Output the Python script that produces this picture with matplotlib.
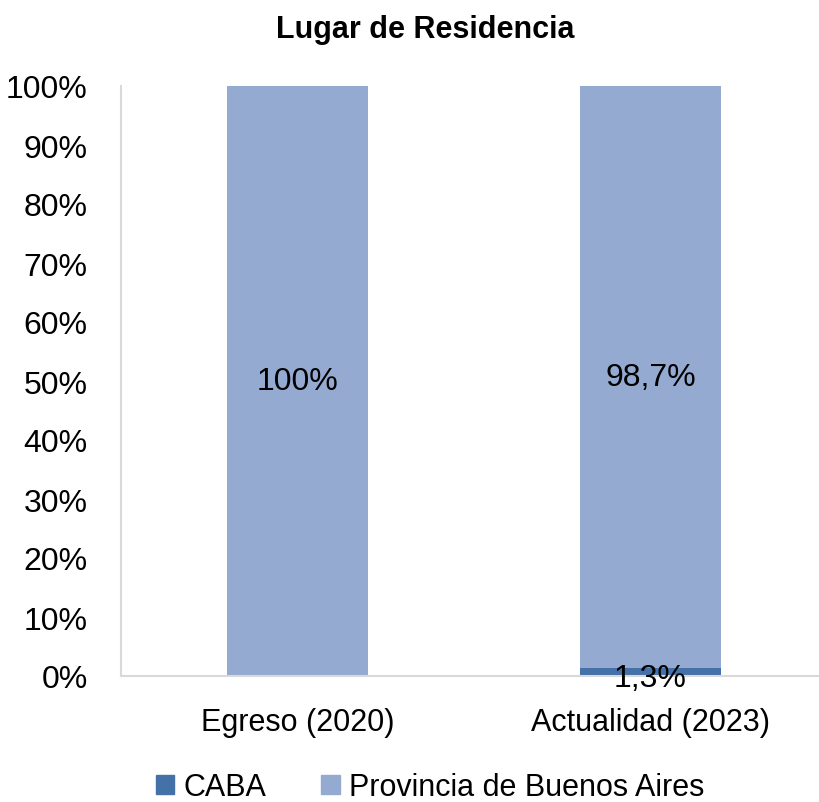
import matplotlib
matplotlib.use("Agg")
from matplotlib import pyplot as plt
from matplotlib.patches import Patch

plt.rcParams['font.family'] = ['Liberation Sans Narrow', 'Liberation Sans', 'DejaVu Sans']

categories = ["Egreso (2020)", "Actualidad (2023)"]
caba = [0.0, 1.3]
provincia = [100.0, 98.7]
prov_labels = ["100%", "98,7%"]
caba_labels = ["", "1,3%"]
series_names = ["CABA", "Provincia de Buenos Aires"]
yticks = list(range(0, 101, 10))

col_caba = "#4371a8"
col_prov = "#95aad1"

fig = plt.figure(figsize=(8.2, 8.03), dpi=100)
ax = fig.add_axes([121 / 820, 126 / 803, 706 / 820, 590 / 803])

x = range(len(categories))
ax.bar(x, caba, width=0.4, color=col_caba)
ax.bar(x, provincia, width=0.4, bottom=caba, color=col_prov)

# data labels
for i in x:
    ax.text(i, caba[i] + provincia[i] / 2, prov_labels[i], ha="center", va="center", fontsize=23)
    if caba_labels[i]:
        ax.text(i, caba[i] / 2 - 1.0, caba_labels[i], ha="center", va="center", fontsize=23)

ax.set_xlim(-0.5, 1.5)
ax.set_ylim(0, 100)
ax.set_yticks(yticks)
ax.set_yticklabels([f"{t}%" for t in yticks], fontsize=23)
ax.set_xticks(list(x))
ax.set_xticklabels(categories, fontsize=22)
ax.tick_params(length=0)
ax.tick_params(axis="x", pad=22)
ax.tick_params(axis="y", pad=24)
for s in ["top", "right"]:
    ax.spines[s].set_visible(False)
ax.spines["left"].set_color("#d9d9d9")
ax.spines["bottom"].set_color("#d9d9d9")
ax.spines["left"].set_linewidth(1.5)
ax.spines["bottom"].set_linewidth(1.5)

fig.text(425 / 820, 1 - 30 / 803, "Lugar de Residencia", ha="center", va="center",
         fontsize=22, fontweight="bold")

handles = [Patch(color=col_caba), Patch(color=col_prov)]
fig.legend(handles, series_names, loc="center", bbox_to_anchor=(430 / 820, 1 - 788 / 803),
           ncol=2, frameon=False, fontsize=22, handlelength=0.6, handleheight=0.6,
           handletextpad=0.3, columnspacing=1.8)

fig.savefig("out.png", dpi=100)
